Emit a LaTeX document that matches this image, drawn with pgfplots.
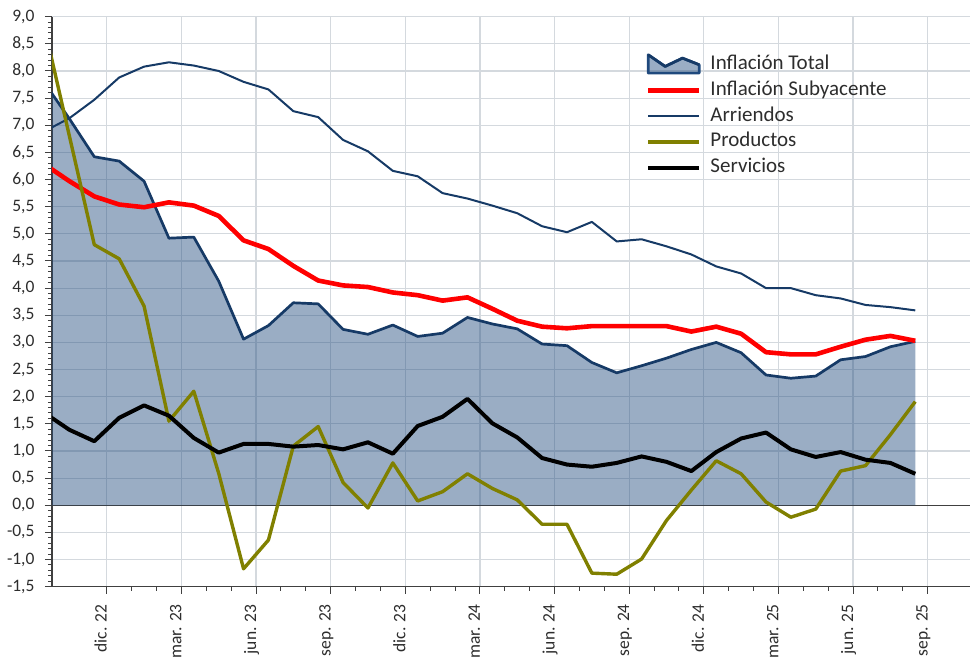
\documentclass[border=0pt]{standalone}
\usepackage{fontspec}
\setmainfont{Carlito}
\usepackage{pgfplots}
\pgfplotsset{compat=1.18}
\usepackage{pgfplotstable}
\definecolor{navy}{RGB}{31,73,125}
\definecolor{navyline}{RGB}{22,58,102}
\definecolor{olivec}{RGB}{128,128,0}
\definecolor{gridc}{RGB}{212,217,222}
\definecolor{axc}{RGB}{64,64,64}
\definecolor{txtc}{RGB}{45,45,45}

\pgfplotstableread{
i tot sub arr prod serv
0 7.78 6.28 6.89 8.80 1.70
1 7.12 5.97 7.13 6.80 1.39
2 6.42 5.69 7.47 4.80 1.18
3 6.34 5.54 7.88 4.54 1.61
4 5.97 5.49 8.08 3.67 1.84
5 4.92 5.58 8.16 1.55 1.65
6 4.94 5.52 8.10 2.10 1.24
7 4.13 5.33 8.00 0.59 0.97
8 3.06 4.88 7.80 -1.17 1.13
9 3.31 4.72 7.66 -0.64 1.13
10 3.73 4.41 7.26 1.09 1.08
11 3.71 4.14 7.15 1.45 1.11
12 3.24 4.05 6.73 0.42 1.03
13 3.15 4.02 6.52 -0.05 1.16
14 3.32 3.92 6.16 0.78 0.95
15 3.11 3.87 6.06 0.08 1.46
16 3.17 3.77 5.75 0.25 1.63
17 3.46 3.83 5.65 0.58 1.96
18 3.34 3.62 5.52 0.31 1.51
19 3.25 3.40 5.38 0.10 1.25
20 2.97 3.29 5.14 -0.35 0.87
21 2.94 3.26 5.03 -0.35 0.75
22 2.63 3.30 5.22 -1.25 0.71
23 2.44 3.30 4.86 -1.27 0.78
24 2.57 3.30 4.90 -0.99 0.90
25 2.71 3.30 4.77 -0.28 0.80
26 2.87 3.20 4.62 0.28 0.63
27 3.00 3.29 4.40 0.82 0.98
28 2.81 3.16 4.27 0.58 1.23
29 2.40 2.82 4.00 0.06 1.34
30 2.34 2.78 4.00 -0.22 1.03
31 2.38 2.78 3.87 -0.07 0.89
32 2.68 2.92 3.81 0.63 0.98
33 2.74 3.05 3.69 0.73 0.84
34 2.92 3.12 3.65 1.30 0.78
35 3.02 3.03 3.59 1.91 0.58
}\datatab

\begin{document}
\begin{tikzpicture}
\begin{axis}[
  scale only axis, width=918pt, height=570pt,
  xmin=0.3, xmax=37.2, ymin=-1.5, ymax=9,
  axis lines*=left,
  axis line style={axc, line width=1.2pt},
  xtick={2.5,5.5,8.5,11.5,14.5,17.5,20.5,23.5,26.5,29.5,32.5,35.5},
  xticklabels={dic. 22, mar. 23, jun. 23, sep. 23, dic. 23, mar. 24, jun. 24, sep. 24, dic. 24, mar. 25, jun. 25, sep. 25},
  minor x tick num=2,
  ytick={-1.5,-1,-0.5,0,0.5,1,1.5,2,2.5,3,3.5,4,4.5,5,5.5,6,6.5,7,7.5,8,8.5,9},
  minor y tick num=4,
  tick align=outside, major tick length=7pt, minor tick length=4pt,
  tick style={axc, line width=1pt},
  grid=major, major grid style={gridc, line width=1.2pt},
  x tick label style={rotate=90, anchor=base east, font=\fontsize{17.5}{20}\selectfont, text=txtc},
  xticklabel shift=7pt,
  y tick label style={font=\fontsize{17.5}{20}\selectfont, text=txtc},
  yticklabel shift=7pt,
  yticklabel style={/pgf/number format/.cd, use comma, fixed, fixed zerofill, precision=1},
  /pgf/number format/assume math mode=true,
  extra y ticks={0}, extra y tick labels={},
  extra y tick style={grid=major, major grid style={axc, line width=1.2pt}},
  legend cell align=left,
  legend image code/.code={\draw[#1] (0pt,0pt) -- (51pt,0pt);},
  legend style={at={(rel axis cs:0.6467,0.936)}, anchor=north west, draw=none, fill=none,
    inner sep=0pt, row sep=5.8pt, font=\fontsize{21}{25}\selectfont, text=txtc,
    nodes={inner xsep=0pt, inner ysep=0pt, text height=15pt, text depth=5pt, anchor=west},
    /tikz/every odd column/.append style={column sep=9pt}},
]
\addplot[draw=none, fill=navy, fill opacity=0.45, forget plot] table[x=i,y=tot]{\datatab} \closedcycle;
\addplot[navyline, line width=2.7pt, line join=round,
  legend image code/.code={
    \fill[navy, fill opacity=0.45] (0pt,-8.7pt) -- (0pt,9.7pt) -- (17pt,-2pt) -- (34.3pt,6.3pt) -- (51pt,-0.3pt) -- (51pt,-8.7pt) -- cycle;
    \draw[navyline, line width=2.7pt, line join=round] (0pt,9.7pt) -- (17pt,-2pt) -- (34.3pt,6.3pt) -- (51pt,-0.3pt);}
  ] table[x=i,y=tot]{\datatab};
\addlegendentry{Inflación Total}
\addplot[red, line width=4.6pt, line join=round] table[x=i,y=sub]{\datatab};
\addlegendentry{Inflación Subyacente}
\addplot[navyline, line width=2pt, line join=round] table[x=i,y=arr]{\datatab};
\addlegendentry{Arriendos}
\addplot[olivec, line width=3.4pt, line join=round] table[x=i,y=prod]{\datatab};
\addlegendentry{Productos}
\addplot[black, line width=4pt, line join=round] table[x=i,y=serv]{\datatab};
\addlegendentry{Servicios}
\end{axis}
\pgfresetboundingbox
\path ([xshift=-52pt,yshift=-71.3pt]current axis.south west) rectangle ([yshift=16.7pt]current axis.north east);
\end{tikzpicture}
\end{document}
